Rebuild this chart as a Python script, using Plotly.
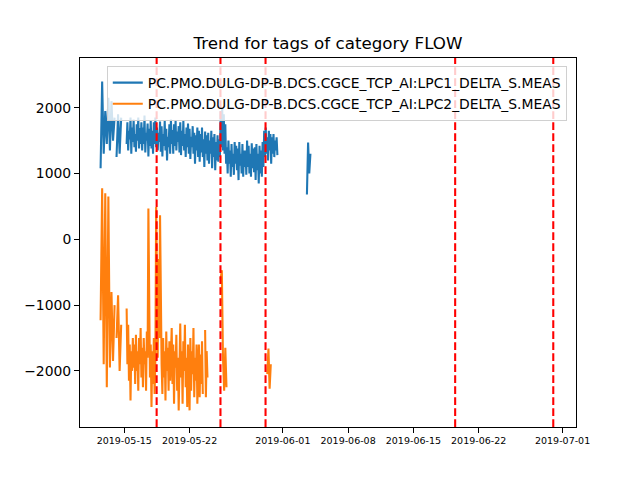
import pandas as pd
import plotly.graph_objects as go

title = "Trend for tags of category FLOW"
tag1 = "PC.PMO.DULG-DP-B.DCS.CGCE_TCP_AI:LPC1_DELTA_S.MEAS"
tag2 = "PC.PMO.DULG-DP-B.DCS.CGCE_TCP_AI:LPC2_DELTA_S.MEAS"

# LPC1 segments
lpc1_s1 = [1080, 2400, 1300, 1950, 1450, 2150, 1350, 2100, 1500, 1850]
lpc1_s2 = [1250, 1900, 1300, 1850]
lpc1_s3 = [
    1450, 1780, 1350, 1650, 1520, 1850, 1300, 1700, 1480,
    1820, 1400, 1600, 1330, 1750, 1500, 1850, 1380, 1690, 1450, 1780, 1350,
    1700, 1450, 1880, 1320, 1620, 1500, 1760, 1260, 1680, 1420, 1800, 1380,
    1650, 1300, 1780, 1450, 1850, 1400, 1700, 1350, 1620, 1480, 1790, 1330,
    1720, 1260, 1600, 1420, 1800, 1350, 1680, 1200, 1560, 1400, 1750, 1300,
    1820, 1450, 1660, 1300, 1750, 1420, 1800, 1350, 1640, 1480, 1720, 1320,
    1780, 1280, 1650, 1420, 1800, 1350, 1600, 1250, 1700, 1400, 1760, 1300,
    1680, 1220, 1560, 1400, 1720, 1300, 1620, 1150, 1580, 1350, 1700, 1250,
    1650, 1180, 1600, 1320, 1700, 1250, 1520, 1100, 1640, 1300, 1580, 1200,
    1620, 1150, 1500, 1300, 1650, 1080, 1550, 1250, 1600, 1050, 1480, 1200,
    1580, 1180, 1520, 1250, 1950, 1400, 2000, 1350, 1900, 1300, 1750, 1150,
    1400, 1000, 1500, 1150, 1350, 950, 1450, 1100, 1300, 980, 1480, 1150,
    1420, 1050, 1380, 900, 1480, 1120, 1300, 1000, 1450, 950, 1350, 1100,
    1350, 980, 1500, 1100, 1420, 1000, 1300, 950, 1460, 1080, 1380, 1020,
    1400, 900, 1450, 1050, 1300, 850, 1420, 1000, 1350, 950, 1480, 1100,
    1650, 1250, 1700, 1300, 1550, 1200, 1650, 1350, 1600, 1150, 1550, 1300,
    1600, 1250, 1500, 1350, 1550, 1280,
]
lpc1_s4 = [680, 1470, 1000, 1300]

# LPC2 segments
lpc2_s1 = [-1230, 775, -1900, 700, -2250, 650, -1950, -800, -1850, -1000]
lpc2_s2 = [-1500, -850, -2000, -1300]
lpc2_s3 = [
    -1050, -1900, -1300, -2150, -1600, -2450, -1700, -2000, -1500,
    -1950, -1600, -2200, -1450, -2000, -1700, -2300, -1500, -1900, -1350, -2100, -1650,
    -2250, -1500, -1900, -1700, -2300, -1400, -1800, 470, -1900, -2100, -1600, -2550,
    -1700, -2200, -1500, -2350, -1800, 490, -600, -1800, -300, -1500, 365, -1200,
    -1900, -2350, -1500, -2100, -1700, -2450, -1400, -2000, -1650, -2300, -1550, -2150,
    -1800, -1350, -2200, -1600, -2500, -1700, -1950, -1450, -2300, -1800, -2600, -1600,
    -1280, -2100, -1700, -2500, -1550, -2000, -1300, -2250, -1800, -2550, -1600, -2100,
    -2600, -1500, -2300, -1700, -2050, -1350, -2400, -1800, -2150, -1600, -2500, -2000,
    -1600, -2400, -1750, -2200, -1550, -2350, None, None, -1380, -2400, -1700, -2100,
]
lpc2_s4 = [-600, -470, -1800, -2300, -1650, -2250]
lpc2_s5 = [-2050, -1660, -2270, -1900]

lpc1_segments = [
    ("2019-05-12 11:00", "4h", lpc1_s1),
    ("2019-05-14 04:00", "4h", lpc1_s2),
    ("2019-05-15 06:00", "2h", lpc1_s3),
    ("2019-06-03 14:00", "3h", lpc1_s4),
]
lpc2_segments = [
    ("2019-05-12 11:00", "4h", lpc2_s1),
    ("2019-05-14 04:00", "4h", lpc2_s2),
    ("2019-05-15 06:00", "2h", lpc2_s3),
    ("2019-05-25 08:00", "3h", lpc2_s4),
    ("2019-05-30 08:00", "3h", lpc2_s5),
]

event_dates = ["2019-05-18 11:15", "2019-05-25 07:30", "2019-05-30 03:30",
               "2019-06-19 11:30", "2019-06-30 00:00"]

x_ticks = ["2019-05-15", "2019-05-22", "2019-06-01", "2019-06-08",
           "2019-06-15", "2019-06-22", "2019-07-01"]
y_ticks = [-2000, -1000, 0, 1000, 2000]


def build(segments):
    xs, ys = [], []
    for start, freq, vals in segments:
        t = pd.date_range(start, periods=len(vals), freq=freq)
        xs.extend(t)
        ys.extend(vals)
        xs.append(t[-1] + pd.Timedelta("1h"))
        ys.append(None)
    return xs, ys


fig = go.Figure()
x1, y1 = build(lpc1_segments)
x2, y2 = build(lpc2_segments)
fig.add_trace(go.Scatter(x=x1, y=y1, mode="lines", name=tag1,
                         line=dict(color="#1f77b4", width=2.08)))
fig.add_trace(go.Scatter(x=x2, y=y2, mode="lines", name=tag2,
                         line=dict(color="#ff7f0e", width=2.08)))

for d in event_dates:
    fig.add_vline(x=d, line=dict(color="red", width=2.08, dash="7.7px,3.3px"))

# page body has an 8px margin, so the figure is 8px smaller than the window
fig.update_layout(
    width=632, height=472,
    margin=dict(l=72, r=64, t=50, b=53),
    paper_bgcolor="white", plot_bgcolor="white",
    font=dict(family="DejaVu Sans", color="black", size=14),
    title=dict(text=title, x=0.5, xref="paper", y=1 - 35 / 472,
               yref="container", yanchor="middle",
               font=dict(size=16.7, color="black")),
    legend=dict(x=0.054, y=0.978, xanchor="left", yanchor="top",
                bgcolor="rgba(255,255,255,0.8)", bordercolor="#d0d0d0",
                borderwidth=1, font=dict(size=13.9), itemwidth=30,
                tracegroupgap=0),
    showlegend=True,
)
fig.update_xaxes(
    range=["2019-05-10 06:00", "2019-07-02 10:30"],
    tickvals=x_ticks, tickformat="%Y-%m-%d", tickfont=dict(size=9.5),
    showgrid=False, zeroline=False, showline=True, mirror=True,
    linecolor="black", linewidth=1, ticks="outside", ticklen=5,
    tickcolor="black",
)
fig.update_yaxes(
    range=[-2853, 2756], tickvals=y_ticks, tickfont=dict(size=13.9),
    showgrid=False, zeroline=False, showline=True, mirror=True,
    linecolor="black", linewidth=1, ticks="outside", ticklen=5,
    tickcolor="black",
)

fig.write_html("out.html")
